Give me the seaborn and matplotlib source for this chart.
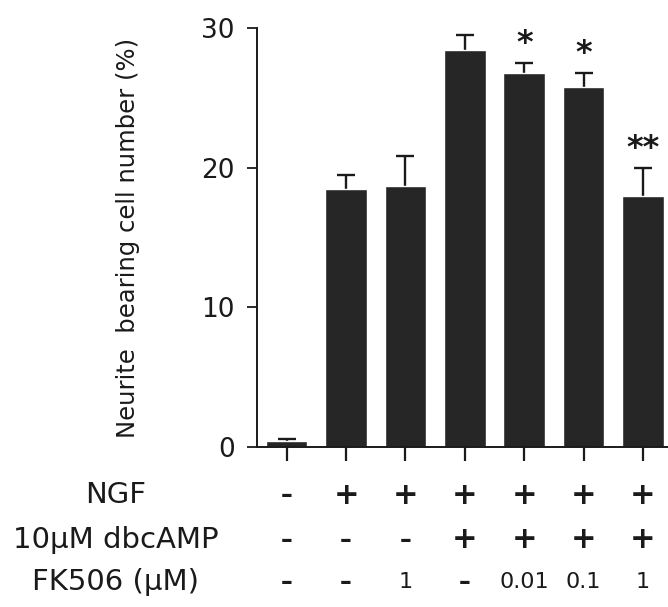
import numpy as np
import pandas as pd
import seaborn as sns
import matplotlib.pyplot as plt
from matplotlib.transforms import blended_transform_factory

# bar groups (left to right) and their values
groups = ['g1', 'g2', 'g3', 'g4', 'g5', 'g6', 'g7']
neurite_pct = [0.4, 18.5, 18.7, 28.4, 26.8, 25.8, 18.0]
sem = [0.15, 1.0, 2.1, 1.1, 0.7, 1.0, 2.0]
stars = ['', '', '', '', '*', '*', '**']

# treatment table under the axis
ngf = ['-', '+', '+', '+', '+', '+', '+']
dbcamp = ['-', '-', '-', '+', '+', '+', '+']
fk506 = ['-', '-', '1', '-', '0.01', '0.1', '1']
row_labels = ['NGF', '10\u03bcM dbcAMP', 'FK506 (\u03bcM)']

df = pd.DataFrame({'group': groups, 'pct': neurite_pct, 'sem': sem})

sns.set_style('ticks')
plt.rcParams['font.family'] = ['DejaVu Sans']

fig = plt.figure(figsize=(6.68, 6.07), dpi=100)
ax = fig.add_axes([257 / 668, 160 / 607, 411 / 668, 419 / 607])

sns.barplot(data=df, x='group', y='pct', order=groups, color='#262626',
            saturation=1, width=0.7, errorbar=None, ax=ax, zorder=2)

# one-sided (upper) error bars
xpos = np.arange(len(groups))
eb = ax.errorbar(xpos, df['pct'], yerr=[np.zeros(len(groups)), df['sem']],
                 fmt='none', ecolor='#1a1a1a', elinewidth=1.7, capsize=6.5,
                 capthick=1.7, zorder=1)
eb[1][0].set_visible(False)  # hide the lower caps

# significance marks
for x, y, e, s in zip(xpos, neurite_pct, sem, stars):
    if s:
        ax.text(x, y + e + 0.25, s, ha='center', va='bottom',
                fontsize=23, fontweight='bold', color='#1a1a1a')

ax.set_ylim(0, 30)
ax.set_xlim(-0.5, 6.42)
ax.set_yticks([0, 10, 20, 30])
ax.set_xticks(xpos)
ax.set_xticklabels([])
ax.set_xlabel('')
ax.set_ylabel('Neurite  bearing cell number (%)', fontsize=17.5, labelpad=44,
              color='#1a1a1a')
ax.tick_params(axis='y', labelsize=19, length=7, width=1.3, pad=9,
               colors='#1a1a1a')
ax.tick_params(axis='x', length=10, width=1.6, colors='#1a1a1a')
sns.despine(ax=ax)
for sp in ['left', 'bottom']:
    ax.spines[sp].set_linewidth(1.4)
    ax.spines[sp].set_color('#1a1a1a')

# treatment rows
trans = blended_transform_factory(ax.transData, fig.transFigure)
row_y = [1 - 495 / 607, 1 - 540 / 607, 1 - 582 / 607]
for yy, label, row in zip(row_y, row_labels, [ngf, dbcamp, fk506]):
    fig.text(116 / 668, yy, label, ha='center', va='center', fontsize=21,
             color='#1a1a1a')
    for x, s in zip(xpos, row):
        if s == '+':
            ax.text(x, yy, s, transform=trans, ha='center', va='center',
                    fontsize=22, fontweight='bold', color='#1a1a1a',
                    clip_on=False)
        elif s == '-':
            ax.text(x, yy, '\u2013', transform=trans, ha='center',
                    va='center', fontsize=17, fontweight='bold',
                    color='#1a1a1a', clip_on=False)
        else:
            ax.text(x, yy, s, transform=trans, ha='center', va='center',
                    fontsize=16, color='#1a1a1a', clip_on=False)

fig.savefig('out.png', dpi=100)
